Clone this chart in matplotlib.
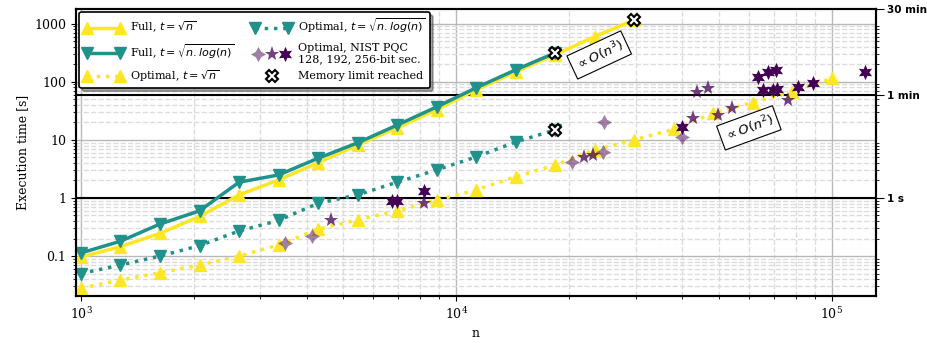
import matplotlib
matplotlib.use('Agg')
import matplotlib.pyplot as plt
from matplotlib.legend_handler import HandlerTuple, HandlerLine2D

plt.rcParams['font.family'] = 'serif'
plt.rcParams['font.serif'] = ['DejaVu Serif']
plt.rcParams['font.size'] = 9

# ---------------- data ----------------
n_values = [1000, 1274, 1624, 2069, 2637, 3360, 4281, 5456, 6952, 8859,
            11288, 14384, 18330, 23357, 29764, 37927, 48329, 61585, 78476, 100000]

full_sqrt = [0.096, 0.145, 0.246, 0.48, 1.13, 2.04, 4.06, 8.2, 16, 33,
             73, 148, 294, 600, 1170]
full_sqrtlog = [0.113, 0.18, 0.356, 0.60, 1.87, 2.49, 4.83, 8.9, 18, 37,
                79, 161, 316]
opt_sqrt = [0.028, 0.0386, 0.0515, 0.070, 0.10, 0.155, 0.29, 0.42, 0.60, 0.92,
            1.37, 2.33, 3.7, 6.7, 10, 15.3, 28.9, 44, 68, 115]
opt_sqrtlog = [0.050, 0.070, 0.10, 0.151, 0.27, 0.41, 0.81, 1.13, 1.87, 3.04,
               5.1, 9.2, 14.9]

nist128_n = [3494, 4113, 20300, 24560, 24710, 39800]
nist128_t = [0.17, 0.22, 4.2, 6.3, 20.4, 11]
nist192_n = [4631, 8200, 21850, 23100, 42700, 43620, 46830, 49800, 54070, 76480]
nist192_t = [0.42, 0.81, 5.1, 5.6, 23.7, 68, 78, 27, 36, 49]
nist256_n = [6730, 6955, 8200, 39800, 63640, 65650, 67680, 69800, 70950, 71380,
             81330, 89180, 122440]
nist256_t = [0.87, 0.87, 1.34, 17, 123, 73, 147, 71, 161, 76, 82, 96, 147]

right_ticks = [1, 60, 1800]
right_labels = ['1 s', '1 min', '30 min']
left_ticks = [0.1, 1, 10, 100, 1000]
left_labels = ['0.1', '1', '10', '100', '1000']

YELLOW = '#FDE725'
TEAL = '#21918C'
PURPLE = '#440154'

fig = plt.figure(figsize=(9.28, 3.43), dpi=100)
ax = fig.add_axes([0.0819, 0.137, 0.862, 0.837])
ax.set_xscale('log')
ax.set_yscale('log')
ax.set_xlim(970, 131000)
ax.set_ylim(0.0205, 1800)

ax.grid(True, which='major', color='#b8b8b8', lw=1.0, zorder=0)
ax.grid(True, which='minor', color='#dcdcdc', lw=1.0, ls='--', zorder=0)
ax.set_axisbelow(True)
for yv in right_ticks[:2]:
    ax.axhline(yv, color='black', lw=1.5, zorder=1)

lw = 2.5
ms = 9
l_full = ax.plot(n_values[:len(full_sqrt)], full_sqrt, color=YELLOW, lw=lw,
                 marker='^', ms=ms, zorder=4)[0]
l_fulllog = ax.plot(n_values[:len(full_sqrtlog)], full_sqrtlog, color=TEAL, lw=lw,
                    marker='v', ms=ms, zorder=5)[0]
l_opt = ax.plot(n_values[:len(opt_sqrt)], opt_sqrt, color=YELLOW, lw=lw, ls=':',
                marker='^', ms=ms, zorder=3)[0]
l_optlog = ax.plot(n_values[:len(opt_sqrtlog)], opt_sqrtlog, color=TEAL, lw=lw, ls=':',
                   marker='v', ms=ms, zorder=3)[0]

s128 = ax.plot(nist128_n, nist128_t, ls='none', marker=(4, 1, 0), ms=11,
               color=PURPLE, alpha=0.5, mew=0, zorder=6)[0]
s192 = ax.plot(nist192_n, nist192_t, ls='none', marker='*', ms=11,
               color=PURPLE, alpha=0.75, mew=0, zorder=6)[0]
s256 = ax.plot(nist256_n, nist256_t, ls='none', marker=(6, 1, 0), ms=11,
               color=PURPLE, alpha=1.0, mew=0, zorder=6)[0]

mem_x = [n_values[len(full_sqrt) - 1], n_values[len(full_sqrtlog) - 1],
         n_values[len(opt_sqrtlog) - 1]]
mem_y = [full_sqrt[-1], full_sqrtlog[-1], opt_sqrtlog[-1]]
l_mem = ax.plot(mem_x, mem_y, ls='none', marker='X', ms=9, mfc='white',
                mec='black', mew=1.5, zorder=10)[0]

bbox = dict(boxstyle='square,pad=0.3', fc='white', ec='black', lw=0.8)
ax.text(24000, 290, r'$\propto O(n^3)$', rotation=25, ha='center', va='center',
        fontsize=9.5, bbox=bbox, zorder=11, rotation_mode='anchor',
        family='DejaVu Sans')
ax.text(60100, 16.1, r'$\propto O(n^2)$', rotation=20, ha='center', va='center',
        fontsize=9.5, bbox=bbox, zorder=11, rotation_mode='anchor',
        family='DejaVu Sans')

ax.set_yticks(left_ticks)
ax.set_yticklabels(left_labels)
ax.set_xlabel('n')
ax.set_ylabel('Execution time [s]')
for sp in ax.spines.values():
    sp.set_linewidth(1.5)

ax2 = ax.twinx()
ax2.set_yscale('log')
ax2.set_ylim(ax.get_ylim())
ax2.set_yticks(right_ticks)
ax2.set_yticklabels(right_labels, fontweight='bold', family='DejaVu Sans',
                    fontsize=7.5)
for sp in ax2.spines.values():
    sp.set_linewidth(1.5)
ax2.tick_params(axis='y', which='major', length=6, pad=2)

handles = [l_full, l_fulllog, l_opt, l_optlog, (s128, s192, s256), l_mem]
labels = [r'Full, $t=\sqrt{n}$', r'Full, $t=\sqrt{n.log(n)}$',
          r'Optimal, $t=\sqrt{n}$', r'Optimal, $t=\sqrt{n.log(n)}$',
          'Optimal, NIST PQC\n128, 192, 256-bit sec.', 'Memory limit reached']
hmap = {s128: HandlerLine2D(numpoints=1), s192: HandlerLine2D(numpoints=1),
        s256: HandlerLine2D(numpoints=1), l_mem: HandlerLine2D(numpoints=1),
        tuple: HandlerTuple(ndivide=None, pad=0.0)}
leg = ax.legend(handles, labels, ncol=2, loc='upper left', numpoints=2,
                handlelength=3.6, fontsize=8, frameon=True, fancybox=True,
                shadow=True, framealpha=1, edgecolor='black',
                borderaxespad=0.3, handler_map=hmap, columnspacing=1.5,
                labelspacing=0.65, handletextpad=0.6)
leg.get_frame().set_linewidth(1.2)
leg.set_zorder(20)

fig.savefig('out.png', dpi=100)
